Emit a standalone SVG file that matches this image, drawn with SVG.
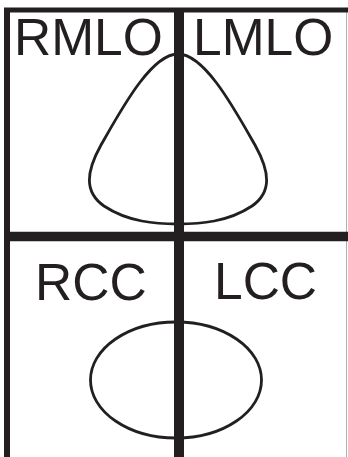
<svg xmlns="http://www.w3.org/2000/svg" width="348" height="457" viewBox="0 0 348 457">
<style>
.frame{stroke:#231f20;fill:none}
.outline{stroke:#231f20;stroke-width:2.8;fill:none}
.label{font-family:"Liberation Sans",Arial,sans-serif;font-size:51.5px;fill:#231f20}
</style>
<rect width="348" height="457" fill="#ffffff"/>
<g id="grid">
<line class="frame" x1="346.5" y1="8" x2="346.5" y2="457" stroke-width="1" style="stroke:#b0b0b0"/>
<line class="frame" x1="4" y1="10" x2="348" y2="10" stroke-width="5"/>
<line class="frame" x1="7" y1="8" x2="7" y2="457" stroke-width="6"/>
<line class="frame" x1="4" y1="236.5" x2="348" y2="236.5" stroke-width="9.5"/>
<line class="frame" x1="179" y1="8" x2="179" y2="457" stroke-width="10"/>
</g>
<g id="mlo-shape">
<path class="outline" d="M178,54 C205,54 235,110 255,145 C270,172 272,192 252,206 C228,222 200,224 178,224 C156,224 128,222 104,206 C84,192 86,172 101,145 C121,110 151,54 178,54 Z"/>
</g>
<g id="cc-shape">
<ellipse class="outline" cx="176" cy="380" rx="85.5" ry="58"/>
</g>
<g id="rmlo"><text class="label" x="14" y="55">RMLO</text></g>
<g id="lmlo"><text class="label" x="193" y="55">LMLO</text></g>
<g id="rcc"><text class="label" x="35" y="300">RCC</text></g>
<g id="lcc"><text class="label" x="214" y="299">LCC</text></g>
</svg>
